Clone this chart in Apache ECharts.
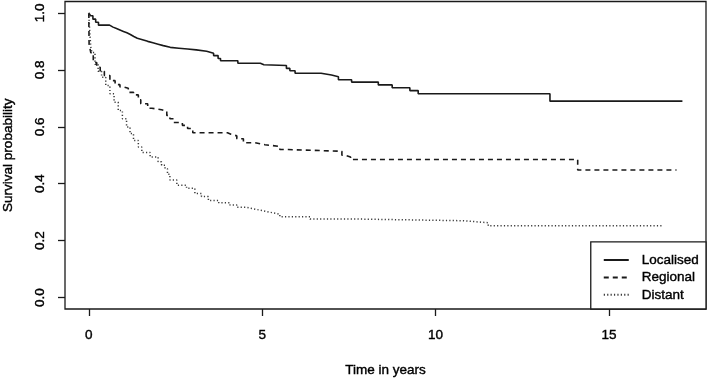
<!DOCTYPE html>
<html>
<head>
<meta charset="utf-8">
<script src="https://cdn.jsdelivr.net/npm/echarts@6/dist/echarts.min.js"></script>
<style>
  html, body { margin: 0; padding: 0; background: #fff; }
  #chart { width: 709px; height: 378px; }
</style>
</head>
<body>
<div id="chart"></div>
<script>
// Kaplan-Meier estimates (time in years, survival)
const localisedTime = [0, 0.05, 0.12, 0.2, 0.28, 0.6, 0.7, 0.8, 0.9, 1.0, 1.1, 1.2, 1.3, 1.4, 1.55, 1.7, 1.85, 2.0, 2.15, 2.35, 2.6, 2.85, 3.1, 3.4, 3.6, 3.73, 3.8, 4.3, 4.95, 5.05, 5.7, 5.8, 5.95, 6.7, 7.0, 7.2, 7.58, 8.35, 8.75, 9.26, 9.5, 13.3, 17.12];
const localisedSurv = [1.0, 0.99, 0.978, 0.967, 0.957, 0.95, 0.945, 0.94, 0.935, 0.93, 0.924, 0.917, 0.911, 0.906, 0.9, 0.895, 0.89, 0.885, 0.879, 0.876, 0.873, 0.87, 0.865, 0.858, 0.85, 0.84, 0.832, 0.823, 0.818, 0.815, 0.805, 0.797, 0.788, 0.782, 0.776, 0.765, 0.757, 0.747, 0.737, 0.727, 0.716, 0.69, 0.69];

const regionalTime = [0, 0.01, 0.06, 0.13, 0.23, 0.33, 0.45, 0.61, 0.76, 0.9, 1.0, 1.14, 1.29, 1.43, 1.5, 1.7, 1.82, 2.1, 2.25, 2.34, 2.45, 2.7, 2.85, 3.0, 4.0, 4.1, 4.27, 4.46, 4.8, 5.08, 5.51, 5.75, 7.3, 7.39, 7.55, 14.1, 16.95];
const regionalSurv = [1.0, 0.89, 0.86, 0.826, 0.809, 0.795, 0.78, 0.762, 0.748, 0.74, 0.735, 0.721, 0.712, 0.695, 0.681, 0.665, 0.66, 0.655, 0.64, 0.628, 0.615, 0.605, 0.594, 0.579, 0.574, 0.568, 0.558, 0.544, 0.537, 0.531, 0.52, 0.514, 0.5, 0.494, 0.485, 0.448, 0.448];

const distantTime = [0, 0.03, 0.06, 0.09, 0.18, 0.27, 0.37, 0.49, 0.61, 0.73, 0.85, 0.97, 1.09, 1.19, 1.29, 1.43, 1.53, 1.77, 2.0, 2.1, 2.2, 2.27, 2.34, 2.54, 2.82, 3.06, 3.25, 3.45, 3.75, 4.07, 4.27, 4.55, 4.74, 5.03, 5.22, 5.51, 6.38, 7.75, 10.8, 11.52, 16.56];
const distantSurv = [1.0, 0.93, 0.88, 0.861, 0.82, 0.795, 0.774, 0.745, 0.716, 0.686, 0.657, 0.628, 0.599, 0.576, 0.552, 0.529, 0.51, 0.494, 0.477, 0.465, 0.453, 0.433, 0.413, 0.395, 0.384, 0.366, 0.355, 0.341, 0.333, 0.325, 0.317, 0.312, 0.305, 0.3, 0.293, 0.284, 0.276, 0.27, 0.263, 0.252, 0.252];

const xTicks = [0, 5, 10, 15];
const yTicks = [0, 0.2, 0.4, 0.6, 0.8, 1.0];
const groupNames = ['Localised', 'Regional', 'Distant'];

const pairs = (ts, ss) => ts.map((t, i) => [t, ss[i]]);

const chart = echarts.init(document.getElementById('chart'));
const ink = '#1a1a1a';
const font = 'Liberation Sans, Arial, Helvetica, sans-serif';

// text in the source is a little heavy, a faint outline thickens it
const txt = {
  fontFamily: font,
  fontSize: 13.5,
  color: '#000',
  textBorderColor: '#000',
  textBorderWidth: 0.4,
};

const option = {
  animation: false,
  textStyle: { fontFamily: font },
  grid: {
    left: 65,
    top: 1.5,
    right: 3,
    bottom: 69,
    outerBoundsMode: 'none',
    containLabel: false,
    show: true,
    borderColor: ink,
    borderWidth: 1.3,
  },
  legend: {
    data: groupNames,
    orient: 'vertical',
    right: 3,
    bottom: 69,
    padding: [11, 7, 7, 12],
    itemGap: 3,
    itemWidth: 25,
    itemHeight: 14,
    backgroundColor: '#fff',
    borderColor: ink,
    borderWidth: 1.3,
    // no point marker in the key, only the line sample
    itemStyle: { color: 'transparent', borderColor: 'transparent', borderWidth: 0 },
    textStyle: Object.assign({}, txt, { padding: [0, 0, 0, 8] }),
  },
  xAxis: {
    type: 'value',
    min: -0.685,
    max: 17.8,
    name: 'Time in years',
    nameLocation: 'middle',
    nameGap: 54,
    nameTextStyle: txt,
    axisLine: { show: false, onZero: false },
    splitLine: { show: false },
    axisTick: {
      show: true,
      inside: false,
      length: 7,
      customValues: xTicks,
      lineStyle: { color: ink, width: 1.3 },
    },
    axisLabel: Object.assign({ customValues: xTicks, margin: 19 }, txt),
  },
  yAxis: {
    type: 'value',
    min: -0.04,
    max: 1.04,
    name: 'Survival probability',
    nameLocation: 'middle',
    nameGap: 50,
    nameTextStyle: txt,
    axisLine: { show: false, onZero: false },
    splitLine: { show: false },
    axisTick: {
      show: true,
      inside: false,
      length: 7,
      customValues: yTicks,
      lineStyle: { color: ink, width: 1.3 },
    },
    axisLabel: Object.assign({
      customValues: yTicks,
      rotate: 90,
      margin: 18,
      formatter: (v) => v.toFixed(1),
    }, txt),
  },
  series: [
    {
      name: 'Localised',
      type: 'line',
      step: 'end',
      symbol: 'none',
      data: pairs(localisedTime, localisedSurv),
      lineStyle: { color: ink, width: 1.6, type: 'solid' },
      itemStyle: { color: ink },
    },
    {
      name: 'Regional',
      type: 'line',
      step: 'end',
      symbol: 'none',
      data: pairs(regionalTime, regionalSurv),
      lineStyle: { color: ink, width: 1.6, type: [5, 4] },
      itemStyle: { color: ink },
    },
    {
      name: 'Distant',
      type: 'line',
      step: 'end',
      symbol: 'none',
      data: pairs(distantTime, distantSurv),
      lineStyle: { color: '#3a3a3a', width: 1.5, type: [1.2, 2.2] },
      itemStyle: { color: '#3a3a3a' },
    },
  ],
};

chart.setOption(option);
</script>
</body>
</html>
